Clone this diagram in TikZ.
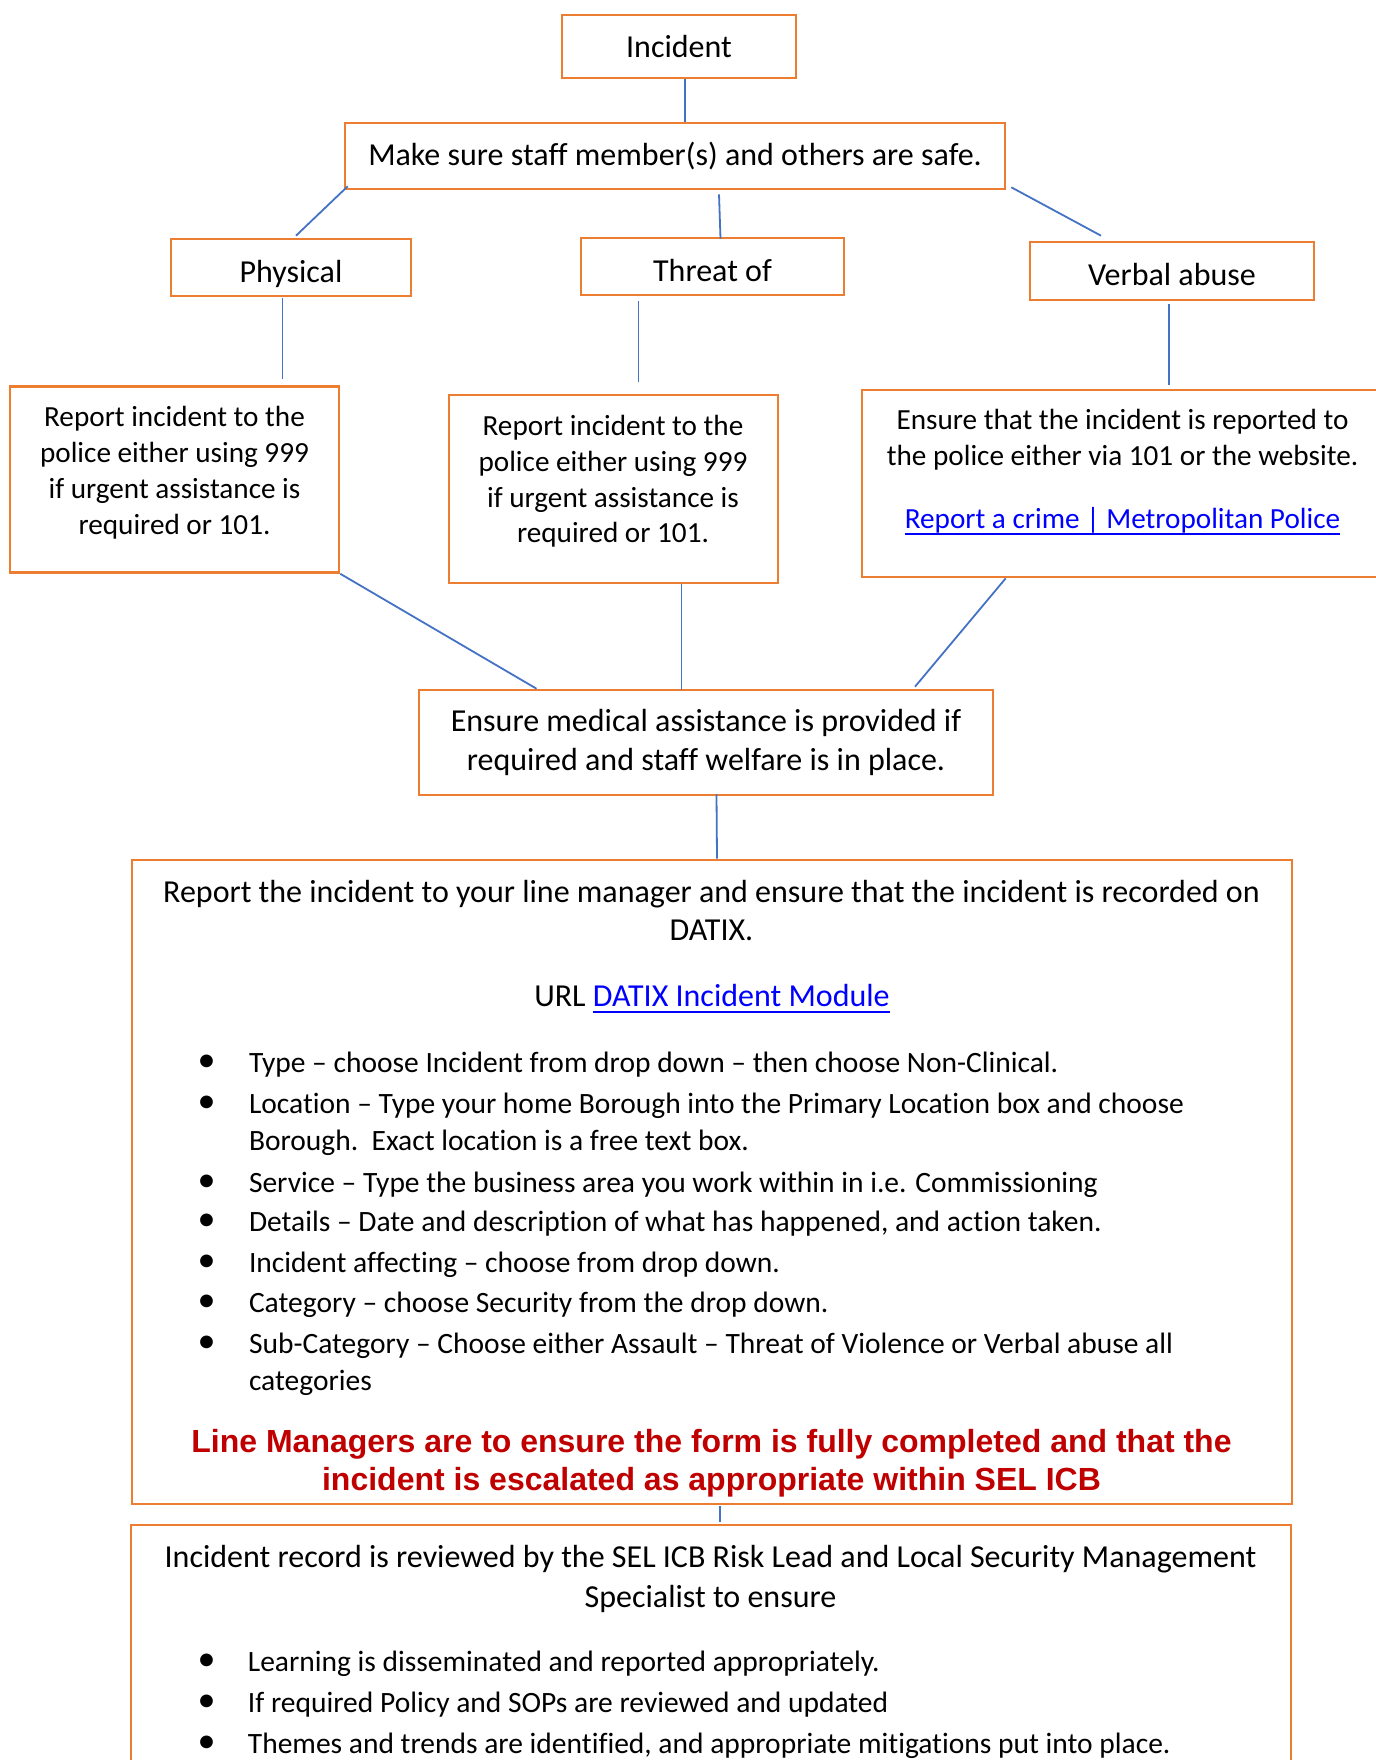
\documentclass[tikz,border=0pt]{standalone}
\usepackage{fontspec}
\setmainfont{Carlito}[Ligatures={TeX,NoCommon}]
\newfontfamily\redfont{Liberation Sans}
\usetikzlibrary{calc}
\definecolor{boxorange}{HTML}{ED7D31}
\definecolor{connblue}{HTML}{4472C4}
\definecolor{alertred}{HTML}{C00000}
\definecolor{linkblue}{HTML}{0000FF}
\newcommand\lnk[1]{\textcolor{linkblue}{\setbox0\hbox{#1}\rlap{\rule[-3pt]{\wd0}{1pt}}\box0}}
\begin{document}
\begin{tikzpicture}[x=0.5pt,y=-0.5pt,
  box/.style={draw=boxorange,line width=1.3pt,rectangle,inner sep=0pt,font=\fontsize{16}{19.5}\selectfont},
  low/.style={text height=14.7pt,text depth=0pt},
  conn/.style={draw=connblue,line width=0.9pt},
  small/.style={inner sep=0pt,anchor=base,font=\fontsize{14.6}{17.8}\selectfont},
  smalll/.style={inner sep=0pt,anchor=base west,font=\fontsize{14.75}{17.8}\selectfont},
  big/.style={inner sep=0pt,anchor=base,font=\fontsize{16}{19.5}\selectfont},
  alert/.style={inner sep=0pt,anchor=base,text=alertred,font=\redfont\bfseries\fontsize{16}{19.5}\selectfont},
  bul/.style={inner sep=0pt,anchor=center,font=\fontsize{18}{18}\selectfont}]
\path[fill=white,use as bounding box] (0,0) rectangle (1375,1760);

% boxes
\node[box,minimum width=117pt,minimum height=31.5pt] (incident) at (679,46.5) {Incident};
\node[box,minimum width=330pt,minimum height=33pt] (safe) at (675,156) {Make sure staff member(s) and others are safe.};
\node[box,low,minimum width=120pt,minimum height=28.5pt] (physical) at (291,267.5) {Physical};
\node[box,low,minimum width=131.5pt,minimum height=28.5pt] (threat) at (712.5,266.5) {Threat of};
\node[box,low,minimum width=142pt,minimum height=29pt] (verbal) at (1172,271) {Verbal abuse};
\node[box,minimum width=164.5pt,minimum height=93pt] (rep1) at (174.5,479.5) {};
\node[box,minimum width=164.5pt,minimum height=94pt] (rep2) at (613.5,489) {};
\node[box,minimum width=261.5pt,minimum height=93.5pt] (police) at (1123.5,483.5) {};
\node[box,align=center,minimum width=287pt,minimum height=52.5pt] (medical) at (706,742.5) {Ensure medical assistance is provided if\\required and staff welfare is in place.};
\node[box,minimum width=580pt,minimum height=322pt] (datix) at (712,1182) {};
\node[box,minimum width=580pt,minimum height=132.5pt] (record) at (711,1657.5) {};

% texts of report boxes
\node[small] (r1a) at (174.5,426) {Report incident to the};
\node[small] (r1b) at (174.5,462) {police either using 999};
\node[small] (r1c) at (174.5,498) {if urgent assistance is};
\node[small] (r1d) at (174.5,534) {required or 101.};
\node[small] (r2a) at (613,435.5) {Report incident to the};
\node[small] (r2b) at (613,471.5) {police either using 999};
\node[small] (r2c) at (613,507) {if urgent assistance is};
\node[small] (r2d) at (613,542.5) {required or 101.};
\node[small] (pa) at (1122.5,429.5) {Ensure that the incident is reported to};
\node[small] (pb) at (1122.5,465) {the police either via 101 or the website.};
\node[small] (pc) at (1122.5,528.5) {\lnk{Report a crime | Metropolitan Police}};

% datix box
\node[big] (da) at (711.5,902.5) {Report the incident to your line manager and ensure that the incident is recorded on};
\node[big] (db) at (711.5,940.5) {DATIX.};
\node[big] (dc) at (712,1006.5) {URL \lnk{DATIX Incident Module}};
\node[bul] (d1b) at (206.5,1063.5) {•};
\node[smalll] (d1) at (248.6,1072.5) {Type – choose Incident from drop down – then choose Non-Clinical.};
\node[bul] (d2b) at (206.5,1104.5) {•};
\node[smalll] (d2) at (248.6,1113.5) {Location – Type your home Borough into the Primary Location box and choose};
\node[smalll] (d2c) at (248.6,1150.5) {Borough.\ \ Exact location is a free text box.};
\node[bul] (d3b) at (206.5,1183) {•};
\node[smalll] (d3) at (248.6,1192) {Service – Type the business area you work within in i.e. Commissioning};
\node[bul] (d4b) at (206.5,1222.5) {•};
\node[smalll] (d4) at (248.6,1231.5) {Details – Date and description of what has happened, and action taken.};
\node[bul] (d5b) at (206.5,1263) {•};
\node[smalll] (d5) at (248.6,1272) {Incident affecting – choose from drop down.};
\node[bul] (d6b) at (206.5,1303.5) {•};
\node[smalll] (d6) at (248.6,1312.5) {Category – choose Security from the drop down.};
\node[bul] (d7b) at (206.5,1344) {•};
\node[smalll] (d7) at (248.6,1353) {Sub-Category – Choose either Assault – Threat of Violence or Verbal abuse all};
\node[smalll] (d7c) at (248.6,1390.5) {categories};
\node[alert] (ra) at (711.5,1452.5) {Line Managers are to ensure the form is fully completed and that the};
\node[alert] (rb) at (711.5,1490) {incident is escalated as appropriate within SEL ICB};

% record box
\node[big] (ea) at (710.5,1567) {Incident record is reviewed by the SEL ICB Risk Lead and Local Security Management};
\node[big] (eb) at (710.5,1607) {Specialist to ensure};
\node[bul] (e1b) at (206.5,1662.5) {•};
\node[smalll] (e1) at (247.5,1671.5) {Learning is disseminated and reported appropriately.};
\node[bul] (e2b) at (206.5,1703.5) {•};
\node[smalll] (e2) at (247.5,1712.5) {If required Policy and SOPs are reviewed and updated};
\node[bul] (e3b) at (206.5,1744) {•};
\node[smalll] (e3) at (247.5,1753) {Themes and trends are identified, and appropriate mitigations put into place.};

% connectors
\draw[conn] ($(incident.south)+(6,0)$) -- ($(safe.north)+(10,0)$);
\draw[conn] ($(safe.south west)+(4,-4)$) -- ($(physical.north)+(5,-2)$);
\draw[conn] ($(safe.south)+(44,4)$) -- ($(threat.north)+(8,2)$);
\draw[conn] ($(safe.south east)+(5,-3)$) -- ($(verbal.north)+(-71,-5)$);
\draw[conn] ($(physical.south)+(-8.5,1)$) -- ($(rep1.north)+(108,-6)$);
\draw[conn] ($(threat.south)+(-74,4.5)$) -- ($(rep2.north)+(25,-12)$);
\draw[conn] ($(verbal.south)+(-3,2.5)$) -- ($(police.north)+(45.5,-3.5)$);
\draw[conn] (rep1.south east) -- ($(medical.north)+(-169.5,0)$);
\draw[conn] ($(rep2.south)+(68,0)$) -- ($(medical.north)+(-24.5,1.5)$);
\draw[conn] ($(police.south west)+(145,0)$) -- ($(medical.north)+(209,-2)$);
\draw[conn] ($(medical.south)+(10.5,-2)$) -- ($(datix.north)+(5,0)$);
\draw[conn] ($(datix.south)+(8,1)$) -- ($(record.north)+(9,-1.5)$);
\end{tikzpicture}
\end{document}
